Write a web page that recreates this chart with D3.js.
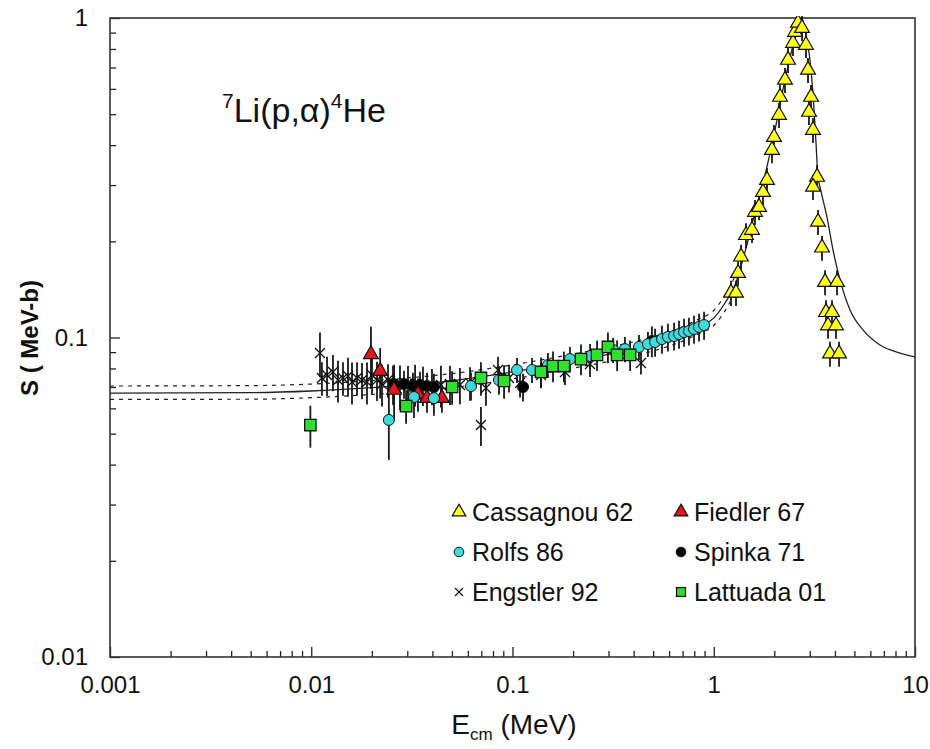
<!DOCTYPE html>
<html>
<head>
<meta charset="utf-8">
<script src="https://cdn.jsdelivr.net/npm/d3@7"></script>
<style>
  html, body { margin: 0; padding: 0; background: #fff; }
  svg text { font-family: Arial, "Liberation Sans", sans-serif; fill: #111; }
</style>
</head>
<body>
<svg id="chart" width="930" height="749"></svg>
<script>
// ---- data: S-factor of 7Li(p,alpha)4He vs centre-of-mass energy (MeV) ----
const xTickValues = [0.001, 0.01, 0.1, 1, 10];
const xTickLabels = ["0.001", "0.01", "0.1", "1", "10"];
const yTickValues = [0.01, 0.1, 1];
const yTickLabels = ["0.01", "0.1", "1"];

const cassagnouE = [1.218, 1.290, 1.320, 1.366, 1.446, 1.549, 1.603, 1.679, 1.757, 1.839, 1.947, 1.993, 2.110, 2.134, 2.259, 2.339, 2.476, 2.533, 2.622, 2.745, 2.873, 2.940, 3.043, 2.973, 3.113, 3.260, 3.113, 3.296, 3.451, 3.572, 4.098, 3.613, 3.869, 3.696, 4.050, 3.781, 4.193];
const cassagnouS = [0.138, 0.138, 0.159, 0.179, 0.209, 0.217, 0.247, 0.256, 0.285, 0.311, 0.386, 0.424, 0.497, 0.566, 0.640, 0.739, 0.835, 0.904, 0.965, 0.930, 0.823, 0.688, 0.566, 0.508, 0.446, 0.318, 0.296, 0.230, 0.191, 0.149, 0.149, 0.120, 0.120, 0.109, 0.109, 0.089, 0.089];
const cassagnouErr = 0.09;

const fiedlerE = [0.0198, 0.0220, 0.0258, 0.0339, 0.0376, 0.0446];
const fiedlerS = [0.0886, 0.0785, 0.0685, 0.0665, 0.0646, 0.0646];
const fiedlerErr = [0.22, 0.18, 0.20, 0.12, 0.10, 0.10];

const rolfsE = [0.0243, 0.0324, 0.0407, 0.0622, 0.0857, 0.1053, 0.125, 0.150, 0.193, 0.243, 0.316, 0.362, 0.425, 0.471, 0.511, 0.553, 0.592, 0.635, 0.672, 0.712, 0.753, 0.798, 0.845, 0.895];
const rolfsS = [0.0552, 0.0651, 0.0646, 0.0705, 0.0736, 0.0791, 0.0791, 0.0820, 0.0856, 0.0875, 0.0914, 0.0920, 0.0934, 0.0954, 0.0968, 0.0989, 0.1004, 0.1011, 0.1025, 0.1040, 0.1048, 0.1063, 0.1079, 0.1094];
const rolfsErr = [0.25, 0.14, 0.12, 0.10, 0.10, 0.09, 0.09, 0.09, 0.09, 0.09, 0.09, 0.09, 0.09, 0.09, 0.10, 0.10, 0.10, 0.10, 0.10, 0.10, 0.10, 0.10, 0.10, 0.10];

const spinkaE = [0.0258, 0.0289, 0.0320, 0.0347, 0.0376, 0.0407, 0.1128, 0.493];
const spinkaS = [0.0715, 0.0715, 0.0705, 0.0710, 0.0705, 0.0700, 0.0700, 0.0975];
const spinkaErr = [0.10, 0.10, 0.10, 0.10, 0.10, 0.10, 0.10, 0.11];

const engstlerE = [0.01105, 0.0113, 0.01198, 0.01282, 0.01358, 0.01438, 0.01523, 0.01594, 0.01688, 0.01787, 0.01892, 0.02004, 0.02122, 0.02247, 0.02406, 0.02548, 0.0276, 0.03025, 0.0328, 0.0359, 0.0398, 0.0441, 0.0489, 0.0548, 0.0615, 0.0697, 0.0738, 0.0847, 0.0961, 0.109, 0.1386, 0.1823, 0.2427, 0.435];
const engstlerS = [0.0894, 0.0747, 0.0763, 0.0780, 0.0736, 0.0747, 0.0758, 0.0726, 0.0747, 0.0736, 0.0726, 0.0763, 0.0736, 0.0715, 0.0736, 0.0715, 0.0705, 0.0721, 0.0715, 0.0710, 0.0705, 0.0710, 0.0715, 0.0710, 0.0721, 0.0532, 0.0695, 0.0791, 0.0747, 0.0721, 0.0763, 0.0780, 0.0826, 0.0832];
const engstlerErr = [0.16, 0.12, 0.14, 0.13, 0.15, 0.12, 0.14, 0.15, 0.12, 0.13, 0.15, 0.13, 0.14, 0.15, 0.12, 0.14, 0.16, 0.13, 0.15, 0.14, 0.13, 0.15, 0.14, 0.13, 0.12, 0.14, 0.12, 0.10, 0.10, 0.10, 0.09, 0.09, 0.09, 0.08];

const lattuadaE = [0.0099, 0.0296, 0.0501, 0.0697, 0.0908, 0.1386, 0.159, 0.180, 0.219, 0.263, 0.298, 0.331, 0.384];
const lattuadaS = [0.0532, 0.0610, 0.0700, 0.0747, 0.0731, 0.0780, 0.0814, 0.0814, 0.0856, 0.0882, 0.0934, 0.0882, 0.0882];
const lattuadaErr = [0.15, 0.12, 0.12, 0.12, 0.12, 0.11, 0.11, 0.11, 0.11, 0.11, 0.11, 0.11, 0.11];

// fit curve (solid) and its uncertainty band (dotted)
const fitE = [0.001, 0.005, 0.01, 0.02, 0.03, 0.05, 0.1, 0.2, 0.3, 0.5, 0.7, 0.85, 1.0, 1.135, 1.275, 1.43, 1.603, 1.798, 2.015, 2.259, 2.476, 2.622, 2.714, 2.76, 2.87, 3.007, 3.10, 3.222, 3.296, 3.373, 3.653, 3.913, 4.24, 4.754, 5.515, 6.70, 8.42, 10];
const fitS = [0.0670, 0.0672, 0.0680, 0.0697, 0.0710, 0.0733, 0.0780, 0.0843, 0.0885, 0.0955, 0.1025, 0.1085, 0.115, 0.128, 0.146, 0.185, 0.247, 0.323, 0.446, 0.640, 0.823, 0.951, 1.0, 0.99, 0.88, 0.739, 0.60, 0.406, 0.318, 0.296, 0.238, 0.188, 0.1514, 0.122, 0.1056, 0.0947, 0.0894, 0.0869];
const bandE = [0.001, 0.005, 0.01, 0.02, 0.03, 0.05, 0.1, 0.2, 0.3, 0.5, 0.7, 0.85, 1.0, 1.135, 1.275];
const bandHi = [0.0705, 0.0707, 0.0715, 0.0733, 0.0747, 0.0771, 0.0821, 0.0887, 0.0932, 0.1006, 0.1080, 0.1145, 0.1215, 0.1355, 0.1550];
const bandLo = [0.0640, 0.0641, 0.0648, 0.0663, 0.0675, 0.0697, 0.0742, 0.0802, 0.0842, 0.0908, 0.0974, 0.1030, 0.1090, 0.1210, 0.1380];

const legendNames = ["Cassagnou 62", "Fiedler 67", "Rolfs 86", "Spinka 71", "Engstler 92", "Lattuada 01"];

// ---- layout ----
const svg = d3.select("#chart");
const pL = 110, pR = 915, pT = 18, pB = 657;
const x = d3.scaleLog().domain([0.001, 10]).range([pL, pR]);
const y = d3.scaleLog().domain([0.01, 1]).range([pB, pT]);

const colors = { cassagnou: "#ffff1a", fiedler: "#e0181e", rolfs: "#3fd9dc", spinka: "#000", lattuada: "#2ee02e" };

// minor + major log ticks
function logTicks(lo, hi) {
  const t = [];
  for (let p = Math.round(Math.log10(lo)); p < Math.round(Math.log10(hi)); p++)
    for (let m = 1; m < 10; m++) t.push(m * Math.pow(10, p));
  t.push(hi);
  return t;
}
const isMajor = v => Math.abs(Math.log10(v) - Math.round(Math.log10(v))) < 1e-9;
const fontFam = "Arial, 'Liberation Sans', sans-serif";

const xAxis = d3.axisBottom(x)
  .tickValues(logTicks(0.001, 10))
  .tickSizeInner(-6).tickSizeOuter(0).tickPadding(19)
  .tickFormat(v => { const i = xTickValues.findIndex(t => Math.abs(t - v) / t < 1e-6); return i >= 0 ? xTickLabels[i] : ""; });
const gx = svg.append("g").attr("transform", `translate(0,${pB})`).call(xAxis);
gx.select(".domain").remove();
gx.selectAll(".tick line").attr("stroke", "#222").attr("stroke-width", 1.3).attr("y2", d => isMajor(d) ? -10 : -6);
gx.selectAll(".tick text").attr("font-size", 24).attr("fill", "#111").attr("font-family", fontFam);

const yAxis = d3.axisLeft(y)
  .tickValues(logTicks(0.01, 1))
  .tickSizeInner(-6).tickSizeOuter(0).tickPadding(22)
  .tickFormat(v => { const i = yTickValues.findIndex(t => Math.abs(t - v) / t < 1e-6); return i >= 0 ? yTickLabels[i] : ""; });
const gy = svg.append("g").attr("transform", `translate(${pL},0)`).call(yAxis);
gy.select(".domain").remove();
gy.selectAll(".tick line").attr("stroke", "#222").attr("stroke-width", 1.3).attr("x2", d => isMajor(d) ? 10 : 6);
gy.selectAll(".tick text").attr("font-size", 24).attr("fill", "#111").attr("font-family", fontFam);

// plot frame
svg.append("rect").attr("x", pL).attr("y", pT).attr("width", pR - pL).attr("height", pB - pT)
  .attr("fill", "none").attr("stroke", "#333").attr("stroke-width", 1.6);

// axis titles
const xt = svg.append("text").attr("x", 514).attr("y", 734).attr("text-anchor", "middle").attr("font-size", 28);
xt.append("tspan").text("E");
xt.append("tspan").attr("font-size", 17).attr("dy", 6).text("cm");
xt.append("tspan").attr("dy", -6).text(" (MeV)");
svg.append("text").attr("transform", "translate(38,338) rotate(-90)").attr("text-anchor", "middle")
  .attr("font-size", 24).attr("font-weight", "bold").attr("fill", "#222").text("S ( MeV-b)");

// reaction label
const tt = svg.append("text").attr("x", 222).attr("y", 122).attr("font-size", 34);
tt.append("tspan").attr("font-size", 21).attr("dy", -14).text("7");
tt.append("tspan").attr("dy", 14).text("Li(p,α)");
tt.append("tspan").attr("font-size", 21).attr("dy", -14).text("4");
tt.append("tspan").attr("dy", 14).text("He");

// clip to plot area
svg.append("clipPath").attr("id", "plotclip").append("rect")
  .attr("x", pL).attr("y", pT - 2).attr("width", pR - pL).attr("height", pB - pT + 2);
const plot = svg.append("g").attr("clip-path", "url(#plotclip)");

// fit curve and band
const line = d3.line().x(d => x(d[0])).y(d => y(d[1])).curve(d3.curveMonotoneX);
plot.append("path").datum(bandE.map((e, i) => [e, bandHi[i]])).attr("d", line)
  .attr("fill", "none").attr("stroke", "#222").attr("stroke-width", 1.2).attr("stroke-dasharray", "4,5");
plot.append("path").datum(bandE.map((e, i) => [e, bandLo[i]])).attr("d", line)
  .attr("fill", "none").attr("stroke", "#222").attr("stroke-width", 1.2).attr("stroke-dasharray", "4,5");
plot.append("path").datum(fitE.map((e, i) => [e, fitS[i]])).attr("d", line)
  .attr("fill", "none").attr("stroke", "#222").attr("stroke-width", 1.3);

// build series records
function series(E, S, err) {
  return E.map((e, i) => ({ e, s: S[i], r: Array.isArray(err) ? err[i] : err }));
}
const sets = {
  engstler: series(engstlerE, engstlerS, engstlerErr),
  spinka: series(spinkaE, spinkaS, spinkaErr),
  fiedler: series(fiedlerE, fiedlerS, fiedlerErr),
  rolfs: series(rolfsE, rolfsS, rolfsErr),
  lattuada: series(lattuadaE, lattuadaS, lattuadaErr),
  cassagnou: series(cassagnouE, cassagnouS, cassagnouErr)
};

// error bars
const bars = plot.append("g").attr("stroke", "#1a1a1a").attr("stroke-width", 1.8);
Object.values(sets).forEach(arr => {
  bars.selectAll(null).data(arr).enter().append("line")
    .attr("x1", d => x(d.e)).attr("x2", d => x(d.e))
    .attr("y1", d => y(d.s * (1 + d.r))).attr("y2", d => y(d.s * (1 - d.r)));
});

// marker drawers
const tri = d3.symbol().type(d3.symbolTriangle).size(95);
const sq = d3.symbol().type(d3.symbolSquare).size(130);
function drawTri(g, data, fill) {
  g.selectAll(null).data(data).enter().append("path").attr("d", tri)
    .attr("transform", d => `translate(${x(d.e)},${y(d.s)})`)
    .attr("fill", fill).attr("stroke", "#111").attr("stroke-width", 1.2);
}
function drawCircle(g, data, fill) {
  g.selectAll(null).data(data).enter().append("circle")
    .attr("cx", d => x(d.e)).attr("cy", d => y(d.s)).attr("r", 5.5)
    .attr("fill", fill).attr("stroke", "#111").attr("stroke-width", 1);
}
function drawSquare(g, data, fill) {
  g.selectAll(null).data(data).enter().append("path").attr("d", sq)
    .attr("transform", d => `translate(${x(d.e)},${y(d.s)})`)
    .attr("fill", fill).attr("stroke", "#111").attr("stroke-width", 1.3);
}
function drawCross(g, data) {
  g.selectAll(null).data(data).enter().append("path")
    .attr("d", "M-5,-5L5,5M-5,5L5,-5")
    .attr("transform", d => `translate(${x(d.e)},${y(d.s)})`)
    .attr("stroke", "#111").attr("stroke-width", 1.3).attr("fill", "none");
}

const marks = plot.append("g");
drawCross(marks, sets.engstler);
drawCircle(marks, sets.spinka, colors.spinka);
drawTri(marks, sets.fiedler, colors.fiedler);
drawCircle(marks, sets.rolfs, colors.rolfs);
drawSquare(marks, sets.lattuada, colors.lattuada);
drawTri(marks, sets.cassagnou, colors.cassagnou);

// legend
const legend = svg.append("g");
const legRows = [512, 552, 592], legCols = [459, 681];
const legItems = [
  { name: legendNames[0], col: 0, row: 0, kind: "tri", fill: colors.cassagnou },
  { name: legendNames[1], col: 1, row: 0, kind: "tri", fill: colors.fiedler },
  { name: legendNames[2], col: 0, row: 1, kind: "circle", fill: colors.rolfs },
  { name: legendNames[3], col: 1, row: 1, kind: "circle", fill: colors.spinka },
  { name: legendNames[4], col: 0, row: 2, kind: "cross" },
  { name: legendNames[5], col: 1, row: 2, kind: "square", fill: colors.lattuada }
];
legItems.forEach(it => {
  const cx = legCols[it.col], cy = legRows[it.row];
  const g = legend.append("g").attr("transform", `translate(${cx},${cy})`);
  if (it.kind === "tri") g.append("path").attr("d", d3.symbol().type(d3.symbolTriangle).size(80)).attr("fill", it.fill).attr("stroke", "#111").attr("stroke-width", 1.2);
  if (it.kind === "circle") g.append("circle").attr("r", 4.8).attr("fill", it.fill).attr("stroke", "#111").attr("stroke-width", 1);
  if (it.kind === "square") g.append("path").attr("d", d3.symbol().type(d3.symbolSquare).size(80)).attr("fill", it.fill).attr("stroke", "#111").attr("stroke-width", 1.2);
  if (it.kind === "cross") g.append("path").attr("d", "M-4,-4L4,4M-4,4L4,-4").attr("stroke", "#111").attr("stroke-width", 1.2);
  g.append("text").attr("x", 13).attr("y", 9).attr("font-size", 25).text(it.name);
});
</script>
</body>
</html>
